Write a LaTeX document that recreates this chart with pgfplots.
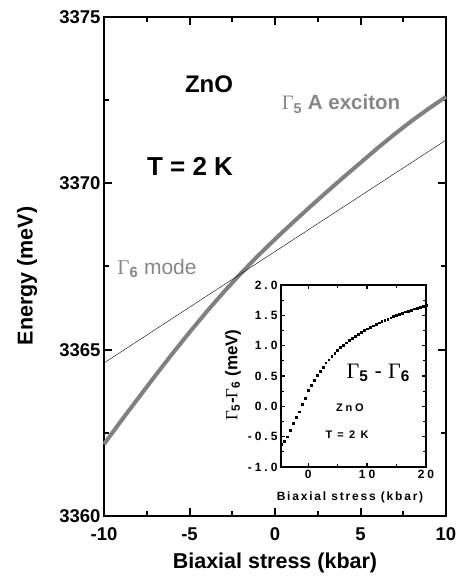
\documentclass[border=0pt]{standalone}
\usepackage{pgfplots}
\pgfplotsset{compat=1.18}
\usepackage{fontspec}
\setmainfont{Liberation Sans}
\newfontfamily\serif{Liberation Serif}
\definecolor{lgray}{RGB}{128,128,128}
\definecolor{tgray}{RGB}{135,135,135}
\begin{document}
\begin{tikzpicture}
\begin{axis}[
  at={(104pt,63pt)}, anchor=south west, scale only axis,
  width=342pt, height=499pt,
  xmin=-10, xmax=10, ymin=3360, ymax=3375,
  xtick={-10,-5,0,5,10}, ytick={3360,3365,3370,3375},
  minor x tick num=1, minor y tick num=1,
  tick align=inside,
  axis line style={line width=2pt},
  major tick length=8pt, minor tick length=5pt,
  every tick/.style={black, line width=2pt},
  tick label style={font=\bfseries\fontsize{18.5}{18.5}\selectfont},
  xticklabel style={yshift=-8pt},
  /pgf/number format/assume math mode=true,
  /pgf/number format/set thousands separator={},
  xlabel={Biaxial stress (kbar)}, ylabel={Energy (meV)},
  label style={font=\bfseries\fontsize{21.5}{21.5}\selectfont},
  xlabel style={at={(axis description cs:0.5,-0.094)}, anchor=center},
  ylabel style={at={(axis description cs:-0.225,0.481)}, anchor=center},
  clip=false,
]
\addplot[lgray, line width=4pt] coordinates {
(-10,3362.16)(-9,3362.86)(-8,3363.54)(-7,3364.22)(-6,3364.88)(-5,3365.52)
(-4,3366.14)(-3,3366.73)(-2,3367.29)(-1,3367.82)(0,3368.32)(1,3368.80)
(2,3369.27)(3,3369.73)(4,3370.18)(5,3370.62)(6,3371.06)(7,3371.48)
(8,3371.88)(9,3372.25)(10,3372.60)};
\addplot[black, line width=0.4pt] coordinates {(-10,3364.6)(10,3371.3)};
\node[font=\bfseries\fontsize{24}{24}\selectfont] at (axis cs:-3.86,3372.98) {ZnO};
\node[font=\bfseries\fontsize{26}{26}\selectfont] at (axis cs:-4.97,3370.52) {T = 2 K};
\node[text=tgray, font=\bfseries\fontsize{20.5}{20.5}\selectfont] at (axis cs:3.86,3372.38) {{\serif\mdseries Γ}\textsubscript{5} A exciton};
\node[text=tgray, font=\fontsize{21}{21}\selectfont] at (axis cs:-6.9,3367.45) {{\serif Γ}\textsubscript{\bfseries 6} mode};
\end{axis}
\begin{axis}[
  at={(281pt,112pt)}, anchor=south west, scale only axis,
  width=145pt, height=182pt,
  xmin=-4.6, xmax=20, ymin=-1, ymax=2,
  xtick={0,10,20}, minor xtick={5,15},
  ytick={-1,-0.5,0,0.5,1,1.5,2}, minor y tick num=1,
  tick align=inside,
  axis line style={line width=1.3pt},
  major tick length=4pt, minor tick length=3pt,
  every tick/.style={black, line width=1.2pt},
  tick label style={font=\bfseries\fontsize{12}{12}\selectfont\addfontfeature{LetterSpace=25}},
  /pgf/number format/assume math mode=true,
  yticklabel style={/pgf/number format/.cd, fixed, fixed zerofill, precision=1},
  xlabel={\addfontfeature{LetterSpace=15}Biaxial stress (kbar)},
  ylabel={{\serif\mdseries Γ}\textsubscript{5}-{\serif\mdseries Γ}\textsubscript{6} (meV)},
  xlabel style={font=\bfseries\fontsize{12}{12}\selectfont, at={(axis description cs:0.476,-0.165)}, anchor=center},
  ylabel style={font=\bfseries\fontsize{17}{17}\selectfont, at={(axis description cs:-0.331,0.505)}, anchor=center},
  axis background/.style={fill=white},
  clip=false,
]
\addplot[only marks, mark=square*, mark size=0.9pt, black] coordinates {
(-4.5,-0.63)(-4.0,-0.57)(-3.5,-0.50)(-3.0,-0.40)(-2.5,-0.28)(-2.0,-0.18)
(-1.5,-0.09)(-1.0,0.03)(-0.5,0.14)(0,0.26)(0.5,0.35)(1.0,0.43)(1.5,0.51)
(2.0,0.58)(2.5,0.65)(3.0,0.72)(3.5,0.77)(4.0,0.83)(4.5,0.88)(5.0,0.92)
(5.5,0.97)(6.0,1.01)(6.5,1.05)(7.0,1.09)(7.5,1.12)(8.0,1.16)(8.5,1.19)
(9.0,1.22)(9.5,1.25)(10.0,1.28)(10.5,1.31)(11.0,1.33)(11.5,1.36)(12.0,1.38)
(12.5,1.40)(13.0,1.42)(13.5,1.44)(14.0,1.46)(14.5,1.48)(15.0,1.50)(15.5,1.52)
(16.0,1.54)(16.5,1.56)(17.0,1.57)(17.5,1.59)(18.0,1.61)(18.5,1.62)(19.0,1.64)
(19.5,1.65)(20.0,1.67)};
\node[font=\fontsize{22}{22}\selectfont] at (axis cs:11.9,0.55) {{\serif Γ}\textsubscript{\bfseries 5} - {\serif Γ}\textsubscript{\bfseries 6}};
\node[font=\bfseries\fontsize{11}{11}\selectfont\addfontfeature{LetterSpace=25}] at (axis cs:7.1,-0.03) {ZnO};
\node[font=\bfseries\fontsize{11}{11}\selectfont\addfontfeature{LetterSpace=20}] at (axis cs:6.6,-0.46) {T = 2 K};
\end{axis}
\pgfresetboundingbox
\path (0,0) rectangle (461pt,579pt);
\end{tikzpicture}
\end{document}
